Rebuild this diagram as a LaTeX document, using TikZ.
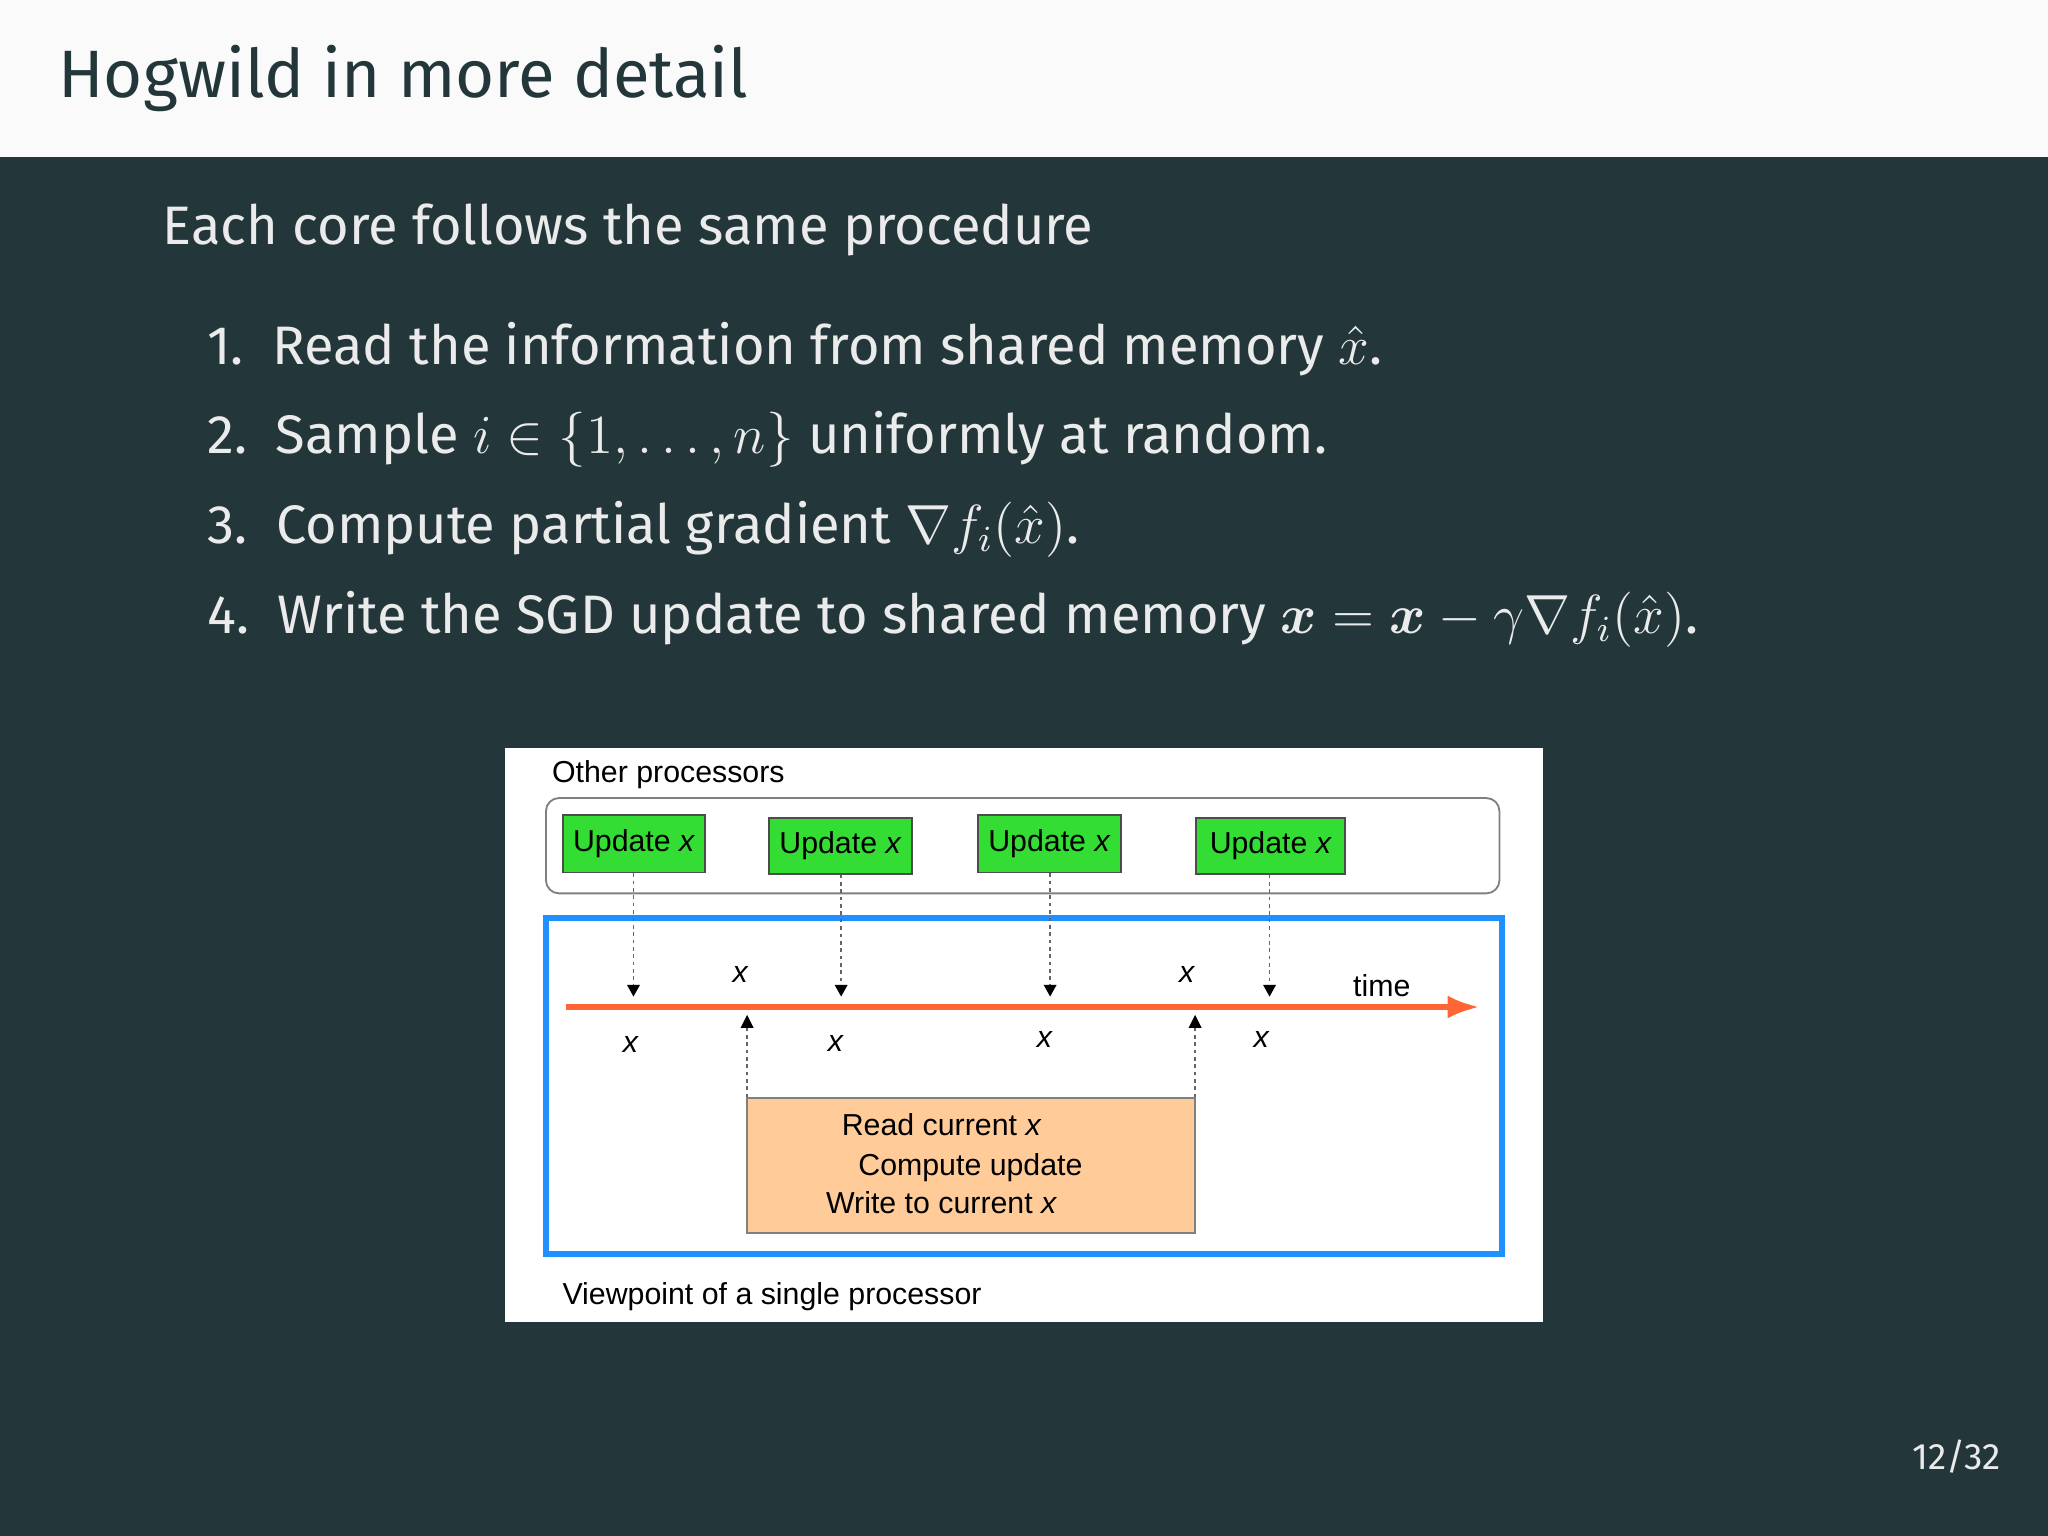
\documentclass[tikz,border=0pt]{standalone}
\usepackage{fontspec}
\usepackage{amsmath,bm}
\setmainfont{Fira Sans}
\newfontfamily\hv{Liberation Sans}
\usetikzlibrary{arrows.meta}
\definecolor{bgdark}{HTML}{23373B}
\definecolor{hdr}{HTML}{FAFAFA}
\definecolor{bodytxt}{HTML}{EBEBEB}
\definecolor{gbox}{HTML}{33DD33}
\definecolor{bblue}{HTML}{1E90FF}
\definecolor{oline}{HTML}{FF6633}
\definecolor{obox}{HTML}{FFCC99}
\tikzset{
  body/.style={anchor=west,text=bodytxt,inner sep=0pt,font=\fontsize{11.8}{14}\selectfont},
  dtxt/.style={inner sep=0pt,font=\hv\fontsize{6.6}{8}\selectfont},
  upd/.style={draw=black!70,fill=gbox,inner sep=0pt,font=\hv\fontsize{6.6}{8}\selectfont},
  dsh/.style={dash pattern=on 0.8pt off 0.8pt,black!60,line width=0.35pt},
}
\begin{document}
\begin{tikzpicture}[x=0.01cm,y=-0.01cm]
\useasboundingbox (0,0) rectangle (1568,1176);
\fill[bgdark] (0,0) rectangle (1568,1176);
\fill[hdr] (0,0) rectangle (1568,120);
\node[anchor=west,text=bgdark,inner sep=0pt,font=\fontsize{14.6}{17}\selectfont] (title) at (44,60) {Hogwild in more detail};
\node[body] (intro) at (124,176) {Each core follows the same procedure};
\node[body] (i1) at (158,267) {1.\ \ Read the information from shared memory $\hat{x}$.};
\node[body] (i2) at (158,336) {2.\ \ Sample $i\in\{1,\dots,n\}$ uniformly at random.};
\node[body] (i3) at (158,405) {3.\ \ Compute partial gradient $\nabla f_i(\hat{x})$.};
\node[body] (i4) at (158,474) {4.\ \ Write the SGD update to shared memory $\bm{x}=\bm{x}-\gamma\nabla f_i(\hat{x})$.};
\node[text=bodytxt,inner sep=0pt,font=\fontsize{8}{10}\selectfont] (pg) at (1498,1115) {12/32};
% diagram
\fill[white] (387,573) rectangle (1181,1012);
\node[dtxt,anchor=west] (other) at (422,593) {Other processors};
\draw[black!50,rounded corners=0.1cm] (418,611) rectangle (1148,684);
\draw[bblue,line width=1.4pt] (418,703) rectangle (1150,960);
\node[upd,minimum width=1.09cm,minimum height=0.44cm] (u1) at (485.5,646) {Update \textit{x}};
\node[upd,minimum width=1.09cm,minimum height=0.43cm] (u2) at (643.5,647.5) {Update \textit{x}};
\node[upd,minimum width=1.09cm,minimum height=0.44cm] (u3) at (803.5,646) {Update \textit{x}};
\node[upd,minimum width=1.14cm,minimum height=0.43cm] (u4) at (973,647.5) {Update \textit{x}};
\coordinate (t0) at (433,771);
\coordinate (t1) at (1133,771);
\draw[oline,line width=1.3pt,-{Latex[length=7pt,width=5pt]}] (t0) -- (t1);
\node[dtxt] (time) at (1058,755) {time};
\foreach \n/\x in {1/485,2/644,3/804,4/972}{
  \coordinate (d\n) at (\x,754);
  \draw[dsh] (u\n.south -| d\n) -- (d\n);
  \fill[black] (\x-5,754) -- (\x+5,754) -- (\x,763) -- cycle;
}
\node[draw=black!50,fill=obox,minimum width=3.43cm,minimum height=1.03cm,inner sep=0pt] (ob) at (743.5,892.5) {};
\node[dtxt] (r1) at (721,861) {Read current \textit{x}};
\node[dtxt] (r2) at (743,894) {Compute update};
\node[dtxt] (r3) at (721,921) {Write to current \textit{x}};
\foreach \n/\x in {1/572,2/915}{
  \coordinate (a\n) at (\x,787);
  \draw[dsh] (ob.north -| a\n) -- (a\n);
  \fill[black] (\x-5,787) -- (\x+5,787) -- (\x,777) -- cycle;
}
\node[dtxt] (xa1) at (567,746) {\textit{x}};
\node[dtxt] (xa2) at (909,746) {\textit{x}};
\node[dtxt] (xb1) at (483,800) {\textit{x}};
\node[dtxt] (xb2) at (640,799) {\textit{x}};
\node[dtxt] (xb3) at (800,796) {\textit{x}};
\node[dtxt] (xb4) at (966,796) {\textit{x}};
\node[dtxt,anchor=west] (vp) at (430,993) {Viewpoint of a single processor};
\end{tikzpicture}
\end{document}
